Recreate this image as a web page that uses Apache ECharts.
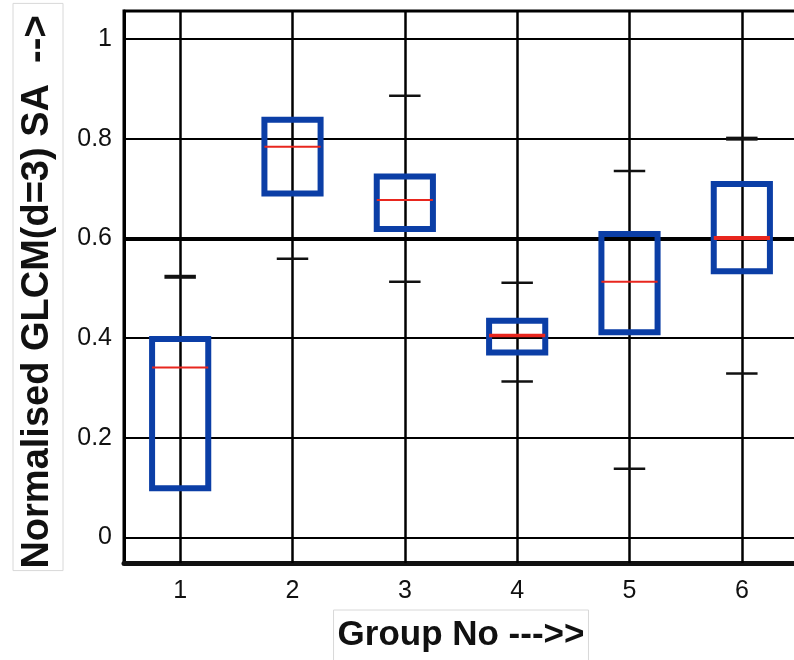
<!DOCTYPE html>
<html>
<head>
<meta charset="utf-8">
<script src="https://cdn.jsdelivr.net/npm/echarts@6/dist/echarts.min.js"></script>
<style>
  html, body { margin: 0; padding: 0; background: #fff; }
  #chart { width: 794px; height: 660px; }
</style>
</head>
<body>
<div id="chart"></div>
<script>
// Group labels along the x axis
const groups = ['1', '2', '3', '4', '5', '6'];

// Five-number summary per group
const lowerWhisker = [0.10, 0.559, 0.513, 0.313, 0.138, 0.329];
const quartile1    = [0.099, 0.690, 0.619, 0.371, 0.412, 0.534];
const medians      = [0.341, 0.784, 0.677, 0.405, 0.513, 0.601];
const quartile3    = [0.398, 0.838, 0.724, 0.435, 0.609, 0.709];
const upperWhisker = [0.523, 0.838, 0.886, 0.511, 0.735, 0.800];

// Y tick values and their labels
const yTickValues = [0, 0.2, 0.4, 0.6, 0.8, 1];
const yTickLabels = ['0', '0.2', '0.4', '0.6', '0.8', '1'];

// Drawing styles
const medianWidths = [2, 2, 2, 3.5, 2, 4];
const upperCapWidths = [4, 2.5, 2.5, 2.5, 2.5, 4];
const BOX_COLOR = '#0b3ea6';
const MEDIAN_COLOR = '#e8261e';

const boxData = groups.map((g, i) => [i, lowerWhisker[i], quartile1[i], medians[i], quartile3[i], upperWhisker[i]]);

function renderBox(params, api) {
  const idx = api.value(0);
  const band = api.size([1, 0])[0];
  const cx = api.coord([idx, 0])[0];
  const yLow = api.coord([idx, api.value(1)])[1];
  const yQ1 = api.coord([idx, api.value(2)])[1];
  const yMed = api.coord([idx, api.value(3)])[1];
  const yQ3 = api.coord([idx, api.value(4)])[1];
  const yHigh = api.coord([idx, api.value(5)])[1];
  const half = band * 0.25;
  const capHalf = band * 0.14;
  return {
    type: 'group',
    children: [
      { type: 'line', shape: { x1: cx - capHalf, y1: yHigh, x2: cx + capHalf, y2: yHigh },
        style: { stroke: '#111', lineWidth: upperCapWidths[idx] } },
      { type: 'line', shape: { x1: cx - capHalf, y1: yLow, x2: cx + capHalf, y2: yLow },
        style: { stroke: '#111', lineWidth: 2.5 } },
      { type: 'rect', shape: { x: cx - half, y: yQ3, width: half * 2, height: yQ1 - yQ3 },
        style: { fill: 'none', stroke: BOX_COLOR, lineWidth: 6 } },
      { type: 'line', shape: { x1: cx - half, y1: yMed, x2: cx + half, y2: yMed },
        style: { stroke: MEDIAN_COLOR, lineWidth: medianWidths[idx] } }
    ]
  };
}

const chart = echarts.init(document.getElementById('chart'), null, { renderer: 'canvas' });

const hLines = yTickValues.map(v => ({
  yAxis: v,
  lineStyle: { color: '#000', width: v === 0.6 ? 4 : 2, type: 'solid' }
}));
const vLines = groups.map(g => ({
  xAxis: g,
  lineStyle: { color: '#000', width: 2.5, type: 'solid' }
}));

chart.setOption({
  animation: false,
  backgroundColor: '#fff',
  grid: {
    left: 124, top: 11, width: 674, height: 552,
    outerBoundsMode: 'none',
    containLabel: false,
    show: true, borderColor: '#000', borderWidth: 3, backgroundColor: 'transparent'
  },
  xAxis: {
    type: 'category',
    data: groups,
    boundaryGap: true,
    axisLine: { show: true, onZero: false, lineStyle: { color: '#111', width: 5 } },
    axisTick: { show: false },
    splitLine: { show: false },
    axisLabel: { color: '#111', fontSize: 25, fontFamily: 'Liberation Sans, Arial', margin: 16 },
    name: 'Group No --->>',
    nameLocation: 'middle',
    nameGap: 47,
    nameTextStyle: {
      color: '#111', fontSize: 35, fontWeight: 'bold', fontFamily: 'Liberation Sans, Arial',
      borderColor: '#d8d8d8', borderWidth: 1, padding: [8, 4, 20, 4]
    }
  },
  yAxis: {
    type: 'value',
    min: -0.051,
    max: 1.056,
    axisLine: { show: true, onZero: false, lineStyle: { color: '#000', width: 3 } },
    axisTick: { show: false },
    splitLine: { show: false },
    axisLabel: {
      customValues: yTickValues,
      formatter: v => yTickLabels[yTickValues.indexOf(Math.round(v * 10) / 10)],
      color: '#111', fontSize: 25, fontFamily: 'Liberation Sans, Arial', margin: 12
    },
    name: 'Normalised GLCM(d=3) SA  -->',
    nameLocation: 'middle',
    nameRotate: 90,
    nameGap: 61,
    nameTextStyle: {
      color: '#111', fontSize: 38, fontWeight: 'bold', fontFamily: 'Liberation Sans, Arial',
      borderColor: '#d8d8d8', borderWidth: 1, padding: [6, 12, 6, 2]
    }
  },
  series: [
    {
      type: 'line',
      data: [],
      z: 1,
      silent: true,
      markLine: {
        silent: true,
        symbol: 'none',
        label: { show: false },
        animation: false,
        data: hLines.concat(vLines)
      }
    },
    {
      type: 'custom',
      z: 5,
      data: boxData,
      renderItem: renderBox,
      encode: { x: 0, y: [1, 2, 3, 4, 5] }
    }
  ]
});
</script>
</body>
</html>
